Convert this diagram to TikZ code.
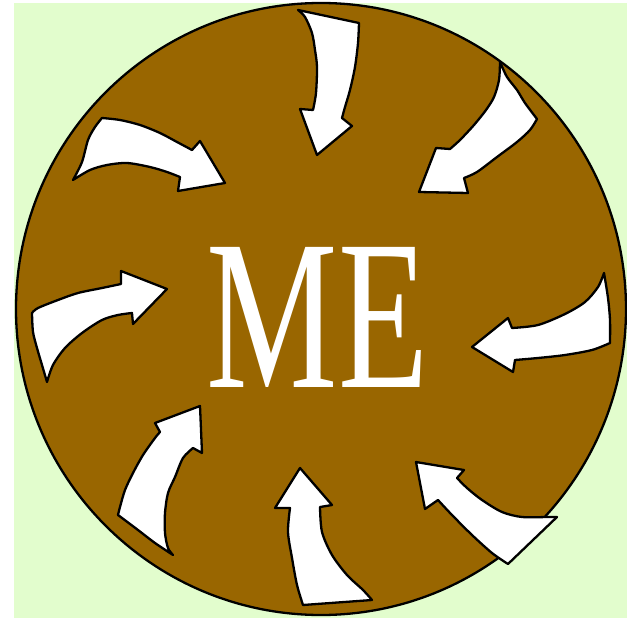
\documentclass[tikz,border=0pt]{standalone}
\usepackage{fontspec}
\setmainfont{Liberation Serif}
\definecolor{bgg}{RGB}{226,253,205}
\definecolor{brn}{RGB}{153,102,0}
\begin{document}
\begin{tikzpicture}[x=1pt,y=-1pt,
  blk/.style={fill=white,draw=black,line width=2.3pt,line join=round},
  disc/.style={fill=brn,draw=black,line width=2.3pt}]
\useasboundingbox (0,0) rectangle (627,618);
\fill[white] (0,0) rectangle (627,618);
\fill[bgg] (14,3) rectangle (627,618);
\begin{scope}
\clip (0,0) rectangle (627,618);
\filldraw[disc] (321,309) ellipse [x radius=305, y radius=306];
\end{scope}
% A1 top
\filldraw[blk] plot[smooth] coordinates {(298,10) (305,17) (312,33) (315,50) (317,67) (316,93) (313,110)}
  -- (300,109) -- (317,155) -- (352,126) -- (342,118)
  -- plot[smooth] coordinates {(342,118) (345,107) (350,90) (355,67) (358,43) (359,23)} -- cycle;
% A2 top right
\filldraw[blk] plot[smooth] coordinates {(500,62) (499,80) (494,97) (486,110) (474,125) (460,140) (450,149)}
  -- (436,148) -- (419,192) -- (468,193) -- (464,178)
  -- plot[smooth] coordinates {(464,178) (477,172) (497,157) (517,142) (530,130) (537,119)}
  -- plot[smooth] coordinates {(537,119) (525,103) (517,90) (507,77) (500,62)} -- cycle;
% A3 upper left
\filldraw[blk] plot[smooth] coordinates {(73,180) (82,162) (88,140) (95,127) (102,118)}
  -- plot[smooth] coordinates {(102,118) (120,120) (140,125) (160,133) (177,142) (192,150)}
  -- (200,141) -- (225,183) -- (178,191) -- (180,177)
  -- plot[smooth] coordinates {(180,177) (167,172) (150,167) (127,163) (107,165) (90,170) (73,180)} -- cycle;
% A4 left
\filldraw[blk] plot[smooth] coordinates {(32,313) (38,308) (58,300) (78,293) (102,288) (121,284)}
  -- (121,271) -- (167,289) -- (133,324) -- (132,313)
  -- plot[smooth] coordinates {(132,313) (118,315) (102,320) (82,333) (65,348) (53,365) (47,382)}
  -- plot[smooth] coordinates {(47,382) (42,365) (37,348) (33,332) (32,313)} -- cycle;
% A5 right
\filldraw[blk] (472,347) -- (508,318) -- (512,328)
  -- plot[smooth] coordinates {(512,328) (538,325) (565,314) (585,302) (598,287) (604,273)}
  -- plot[smooth] coordinates {(604,273) (608,298) (610,320) (610,343)}
  -- plot[smooth] coordinates {(610,343) (592,350) (565,355) (538,358) (515,360)}
  -- (513,372) -- cycle;
% A6 lower left
\filldraw[blk] (200,406) -- (202,453) -- (193,448)
  -- plot[smooth] coordinates {(193,448) (183,458) (175,477) (168,493) (165,513) (165,533) (168,548) (173,555)}
  -- plot[smooth] coordinates {(173,555) (155,543) (138,530) (118,515)}
  -- plot[smooth] coordinates {(118,515) (120,507) (125,490) (133,473) (143,455) (155,438) (160,432)}
  -- (155,423) -- cycle;
% A7 bottom
\filldraw[blk] (300,468) -- (332,505) -- (320,507)
  -- plot[smooth] coordinates {(320,507) (322,532) (332,555) (347,575) (363,590) (372,600)}
  -- (303,605)
  -- plot[smooth] coordinates {(303,605) (297,585) (292,558) (288,532) (290,508)}
  -- (275,508) -- cycle;
% A8 lower right
\filldraw[blk] (416,462) -- (464,470) -- (457,478)
  -- plot[smooth] coordinates {(457,478) (467,488) (482,500) (502,512) (522,517) (548,517) (557,517)}
  -- (508,564)
  -- plot[smooth] coordinates {(508,564) (492,553) (472,535) (452,515) (438,500)}
  -- (425,509) -- cycle;
\node[text=white, inner sep=0pt, anchor=base, font=\fontsize{214}{214}\selectfont] (me) at (317.5,387) {\scalebox{0.69}[1]{ME}};
\end{tikzpicture}
\end{document}
